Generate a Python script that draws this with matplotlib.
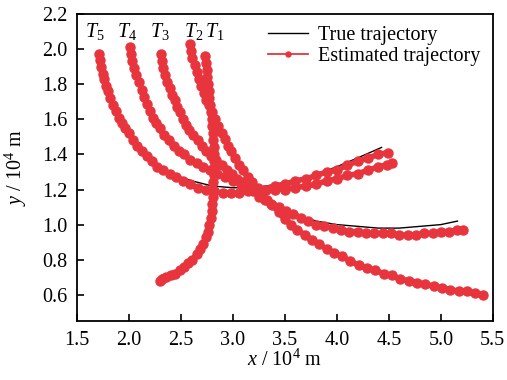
import matplotlib

matplotlib.use("Agg")
import matplotlib.pyplot as plt

plt.rcParams["font.family"] = ["Liberation Serif", "DejaVu Serif"]
plt.rcParams["mathtext.fontset"] = "custom"
plt.rcParams["mathtext.rm"] = "Liberation Serif"
plt.rcParams["mathtext.it"] = "Liberation Serif:italic"

# true trajectories (x, y in 10^4 m)
t1_x = [2.74, 2.75, 2.77, 2.78, 2.79, 2.80, 2.81, 2.82, 2.82, 2.82, 2.81, 2.80, 2.78, 2.75, 2.70, 2.63, 2.55, 2.46, 2.37, 2.31]
t1_y = [1.95, 1.88, 1.80, 1.72, 1.64, 1.56, 1.48, 1.40, 1.32, 1.24, 1.16, 1.08, 1.01, 0.94, 0.88, 0.82, 0.77, 0.74, 0.72, 0.71]
t2_x = [2.60, 2.62, 2.65, 2.69, 2.74, 2.80, 2.86, 2.92, 2.98, 3.05, 3.12, 3.20, 3.28, 3.36, 3.46, 3.58, 3.70, 3.85,
        4.00, 4.20, 4.40, 4.60, 4.80, 5.00, 5.20, 5.37]
t2_y = [2.02, 1.95, 1.88, 1.80, 1.72, 1.64, 1.57, 1.50, 1.43, 1.36, 1.29, 1.23, 1.17, 1.12, 1.06, 1.00, 0.95, 0.89,
        0.84, 0.78, 0.73, 0.69, 0.66, 0.63, 0.61, 0.59]
t3_x = [2.30, 2.33, 2.36, 2.40, 2.45, 2.50, 2.56, 2.62, 2.69, 2.76, 2.85, 2.95, 3.05, 3.15, 3.25, 3.35, 3.45, 3.60,
        3.80, 4.00, 4.20, 4.40, 4.60, 4.80, 5.00, 5.16]
t3_y = [1.97, 1.90, 1.84, 1.77, 1.70, 1.63, 1.56, 1.50, 1.45, 1.41, 1.36, 1.31, 1.26, 1.21, 1.17, 1.13, 1.10, 1.06,
        1.02, 1.00, 0.99, 0.98, 0.98, 0.99, 1.00, 1.02]
t4_x = [2.00, 2.02, 2.05, 2.09, 2.13, 2.18, 2.24, 2.30, 2.38, 2.47, 2.57, 2.68, 2.80, 2.95, 3.10, 3.25, 3.40, 3.60,
        3.80, 4.00, 4.20, 4.50]
t4_y = [2.00, 1.95, 1.90, 1.82, 1.74, 1.66, 1.58, 1.52, 1.46, 1.41, 1.37, 1.33, 1.30, 1.26, 1.23, 1.21, 1.20, 1.21,
        1.23, 1.27, 1.30, 1.34]
t5_x = [1.70, 1.74, 1.79, 1.85, 1.92, 2.00, 2.10, 2.20, 2.32, 2.45, 2.60, 2.80, 3.00, 3.23, 3.50, 3.77, 4.00, 4.20, 4.43]
t5_y = [1.98, 1.88, 1.78, 1.68, 1.59, 1.51, 1.43, 1.37, 1.32, 1.28, 1.25, 1.22, 1.21, 1.21, 1.24, 1.28, 1.33, 1.38, 1.44]

# estimated trajectories
e1_x = [2.73, 2.74, 2.75, 2.75, 2.76, 2.77, 2.77, 2.78, 2.79, 2.80, 2.80, 2.81, 2.81, 2.82, 2.82, 2.82, 2.82, 2.82,
        2.81, 2.81, 2.81, 2.80, 2.80, 2.79, 2.77, 2.76, 2.74, 2.71, 2.68, 2.65, 2.61, 2.57, 2.53, 2.49, 2.44, 2.40,
        2.36, 2.32, 2.30]
e1_y = [1.96, 1.92, 1.88, 1.84, 1.80, 1.76, 1.72, 1.68, 1.64, 1.60, 1.56, 1.52, 1.48, 1.44, 1.40, 1.36, 1.32, 1.28,
        1.24, 1.20, 1.16, 1.12, 1.08, 1.04, 1.00, 0.96, 0.93, 0.89, 0.86, 0.83, 0.80, 0.78, 0.76, 0.74, 0.72, 0.71,
        0.70, 0.69, 0.68]
e2_x = [2.59, 2.60, 2.61, 2.63, 2.65, 2.67, 2.69, 2.72, 2.74, 2.77, 2.80, 2.83, 2.86, 2.89, 2.92, 2.95, 2.98, 3.02,
        3.06, 3.10, 3.14, 3.18, 3.23, 3.28, 3.33, 3.38, 3.44, 3.50, 3.56, 3.62, 3.69, 3.76, 3.83, 3.90, 3.97, 4.05,
        4.13, 4.21, 4.29, 4.37, 4.45, 4.53, 4.61, 4.69, 4.77, 4.85, 4.93, 5.01, 5.09, 5.17, 5.25, 5.33, 5.41]
e2_y = [2.03, 1.99, 1.95, 1.91, 1.87, 1.83, 1.79, 1.75, 1.71, 1.68, 1.64, 1.60, 1.56, 1.52, 1.49, 1.45, 1.42, 1.38,
        1.34, 1.31, 1.27, 1.24, 1.20, 1.17, 1.14, 1.11, 1.07, 1.03, 1.00, 0.97, 0.94, 0.91, 0.89, 0.86, 0.84, 0.82,
        0.79, 0.77, 0.75, 0.74, 0.72, 0.71, 0.69, 0.68, 0.67, 0.66, 0.65, 0.64, 0.63, 0.62, 0.62, 0.61, 0.60]
e3_x = [2.31, 2.32, 2.33, 2.35, 2.37, 2.39, 2.41, 2.44, 2.46, 2.49, 2.52, 2.55, 2.58, 2.62, 2.66, 2.70, 2.74, 2.79,
        2.84, 2.89, 2.94, 2.99, 3.04, 3.09, 3.14, 3.19, 3.25, 3.31, 3.37, 3.44, 3.51, 3.58, 3.65, 3.72, 3.80, 3.88,
        3.96, 4.04, 4.12, 4.20, 4.28, 4.36, 4.44, 4.52, 4.60, 4.68, 4.76, 4.84, 4.92, 5.00, 5.08, 5.16, 5.21]
e3_y = [1.97, 1.93, 1.89, 1.85, 1.81, 1.78, 1.74, 1.71, 1.67, 1.64, 1.60, 1.57, 1.54, 1.51, 1.48, 1.45, 1.42, 1.39,
        1.37, 1.34, 1.31, 1.29, 1.26, 1.24, 1.21, 1.19, 1.16, 1.14, 1.12, 1.10, 1.08, 1.06, 1.04, 1.02, 1.00, 0.99,
        0.98, 0.97, 0.96, 0.96, 0.95, 0.95, 0.95, 0.95, 0.94, 0.94, 0.94, 0.95, 0.95, 0.96, 0.96, 0.97, 0.97]
e4_x = [2.01, 2.02, 2.03, 2.05, 2.07, 2.10, 2.12, 2.14, 2.17, 2.20, 2.23, 2.26, 2.30, 2.34, 2.38, 2.43, 2.48, 2.53,
        2.59, 2.65, 2.71, 2.78, 2.85, 2.92, 3.00, 3.08, 3.16, 3.24, 3.32, 3.40, 3.50, 3.60, 3.70, 3.80, 3.90, 4.00,
        4.10, 4.20, 4.30, 4.40, 4.48, 4.53]
e4_y = [2.01, 1.97, 1.93, 1.89, 1.85, 1.81, 1.77, 1.73, 1.69, 1.65, 1.61, 1.58, 1.55, 1.51, 1.48, 1.45, 1.42, 1.40,
        1.37, 1.35, 1.33, 1.31, 1.29, 1.27, 1.25, 1.23, 1.22, 1.21, 1.20, 1.20, 1.20, 1.21, 1.22, 1.23, 1.25, 1.26,
        1.28, 1.29, 1.31, 1.33, 1.34, 1.35]
e5_x = [1.71, 1.72, 1.73, 1.75, 1.76, 1.78, 1.80, 1.82, 1.85, 1.87, 1.90, 1.93, 1.96, 2.00, 2.04, 2.08, 2.12, 2.17,
        2.22, 2.27, 2.33, 2.39, 2.45, 2.52, 2.59, 2.66, 2.74, 2.82, 2.90, 2.98, 3.06, 3.14, 3.22, 3.30, 3.40, 3.50,
        3.60, 3.70, 3.80, 3.90, 4.00, 4.10, 4.20, 4.30, 4.40, 4.49]
e5_y = [1.97, 1.94, 1.90, 1.86, 1.83, 1.79, 1.76, 1.72, 1.68, 1.65, 1.61, 1.58, 1.55, 1.52, 1.48, 1.45, 1.42, 1.39,
        1.36, 1.33, 1.31, 1.29, 1.27, 1.25, 1.23, 1.21, 1.20, 1.19, 1.18, 1.18, 1.18, 1.19, 1.19, 1.20, 1.22, 1.23,
        1.25, 1.26, 1.28, 1.30, 1.31, 1.34, 1.36, 1.38, 1.40, 1.41]

target_labels = ["$T_1$", "$T_2$", "$T_3$", "$T_4$", "$T_5$"]
label_x = [2.82, 2.62, 2.30, 1.98, 1.67]

true_tracks = [(t1_x, t1_y), (t2_x, t2_y), (t3_x, t3_y), (t4_x, t4_y), (t5_x, t5_y)]
est_tracks = [(e1_x, e1_y), (e2_x, e2_y), (e3_x, e3_y), (e4_x, e4_y), (e5_x, e5_y)]

RED = "#e8343d"
FS = 14.5

fig = plt.figure(figsize=(5.07, 3.8), dpi=100)
ax = fig.add_axes([0.152, 0.155, 0.820, 0.808])

for i, (x, y) in enumerate(true_tracks):
    ax.plot(x, y, color="black", lw=1.0, zorder=2,
            label="True trajectory" if i == 0 else None)
for i, (x, y) in enumerate(est_tracks):
    ax.plot(x, y, color=RED, lw=4.0, marker="o", ms=6.5, mec=RED, mfc=RED, zorder=3,
            label="Estimated trajectory" if i == 0 else None)

for lab, lx in zip(target_labels, label_x):
    ax.text(lx, 2.10, lab, fontsize=FS, ha="center", va="center")

ax.set_xlim(1.5, 5.5)
ax.set_ylim(0.45, 2.2)
ax.set_xticks([1.5, 2.0, 2.5, 3.0, 3.5, 4.0, 4.5, 5.0, 5.5])
ax.set_yticks([0.6, 0.8, 1.0, 1.2, 1.4, 1.6, 1.8, 2.0, 2.2])
ax.set_xticklabels(["1.5", "2.0", "2.5", "3.0", "3.5", "4.0", "4.5", "5.0", "5.5"])
ax.set_yticklabels(["0.6", "0.8", "1.0", "1.2", "1.4", "1.6", "1.8", "2.0", "2.2"])
ax.tick_params(direction="in", length=5, width=1.2, labelsize=FS, pad=7)
for s in ax.spines.values():
    s.set_linewidth(1.3)

ax.set_xlabel(r"$x$ / 10$^4$ m", fontsize=FS, labelpad=0)
ax.set_ylabel(r"$y$ / 10$^4$ m", fontsize=FS, labelpad=9)

leg = ax.legend(loc="upper right", bbox_to_anchor=(1.0, 1.0), frameon=False, fontsize=FS,
                handlelength=2.0, handletextpad=0.5, labelspacing=0.1, markerscale=0.55,
                borderaxespad=0.2)
leg.get_lines()[1].set_linewidth(1.3)

fig.savefig("out.png", dpi=100)
